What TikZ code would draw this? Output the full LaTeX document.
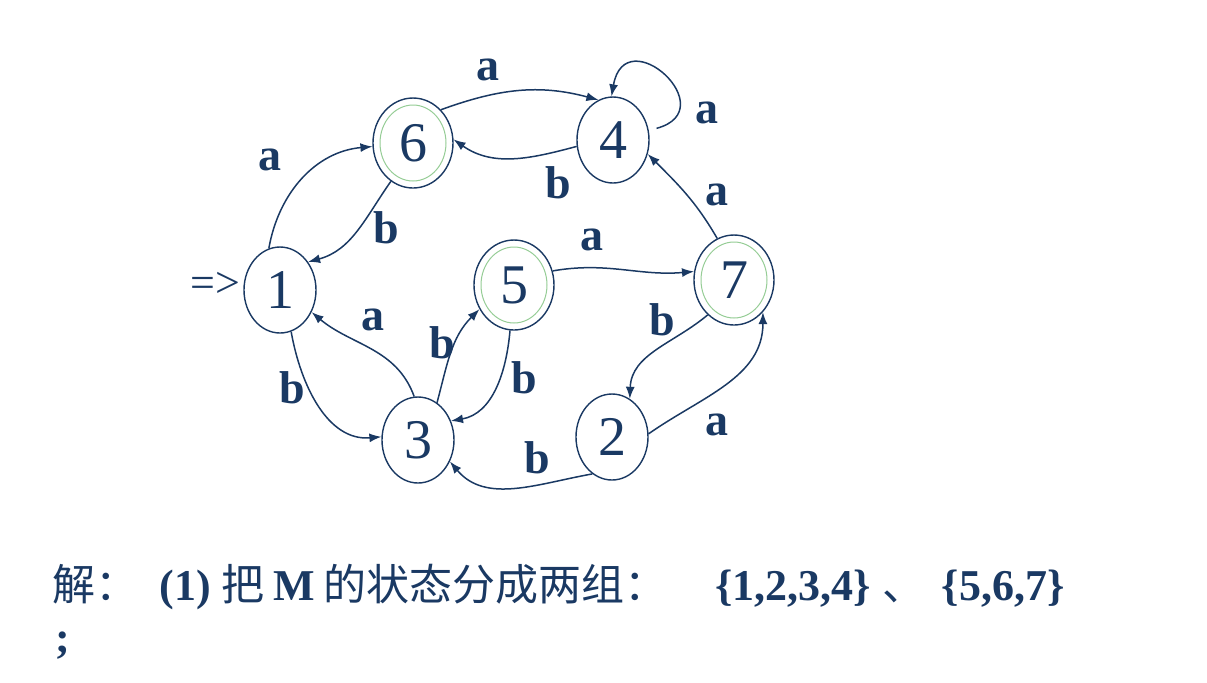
\documentclass[tikz,border=0pt]{standalone}
\usepackage{fontspec}
\setmainfont{Liberation Serif}
\newfontfamily\cjk{Noto Sans CJK SC}
\usetikzlibrary{shapes.geometric, arrows.meta}
\definecolor{navy}{RGB}{26,57,99}
\definecolor{ringgreen}{RGB}{150,205,150}
\tikzstyle{state} = [ellipse, draw=navy, line width=0.7pt, fill=white,
    minimum width=36pt, minimum height=43pt, inner sep=0pt, text=navy,
    font=\fontsize{28}{30}\selectfont]
\tikzstyle{accept} = [state, minimum width=40pt, minimum height=45pt,
    path picture={\draw[ringgreen, line width=0.5pt] (path picture bounding box.center)
    ellipse [x radius=16.5pt, y radius=19pt];}]
\tikzstyle{trans} = [draw=navy, line width=0.75pt, -{Latex[length=6pt, width=4.5pt]}]
\tikzstyle{lbl} = [text=navy, font=\fontsize{23}{25}\selectfont\bfseries]
\newcommand{\zh}[1]{{\cjk\mdseries\fontsize{21.5}{24}\selectfont #1}}

\begin{document}
\begin{tikzpicture}[x=0.5pt, y=-0.5pt]
    \useasboundingbox (0,0) rectangle (1207,682);
    % States
    \node[state] (n1) at (280,290) {1};
    \node[accept] (n6) at (413,143) {6};
    \node[state] (n4) at (613,140) {4};
    \node[accept] (n5) at (514,285) {5};
    \node[accept] (n7) at (734,280) {7};
    \node[state] (n3) at (418,440) {3};
    \node[state] (n2) at (612,437) {2};
    \node[text=navy, font=\fontsize{22}{24}\selectfont] (start) at (215,285) {=>};

    % Transitions
    \path[trans] (n1.105) to[out=80, in=185] (n6.185);
    \path[trans] (n6.240) to[out=235, in=15] (n1.45);
    \path[trans] (n6.50) to[out=20, in=165] (n4.110);
    \path[trans] (n4.190) to[out=195, in=-35] (n6.5);
    \path[trans, shorten <=4pt] (n4.15) to[out=15, in=80, looseness=4] (n4.92);
    \path[trans] (n7.112) to[out=120, in=-45] (n4.-22);
    \path[trans] (n5.20) to[out=10, in=185] (n7.168);
    \path[trans] (n7.233) to[out=220, in=88] (n2.65);
    \path[trans] (n2.5) to[out=35, in=-90] (n7.-48);
    \path[trans] (n2.242) to[out=190, in=-50] (n3.-34);
    \path[trans] (n3.95) to[out=110, in=-40] (n1.-35);
    \path[trans] (n1.-75) to[out=-80, in=185] (n3.175);
    \path[trans] (n3.63) to[out=75, in=225] (n5.215);
    \path[trans] (n5.265) to[out=265, in=10] (n3.30);

    % Labels
    \node[lbl] (l16) at (270,160) {a};
    \node[lbl] (l61) at (386,228) {b};
    \node[lbl] (l64) at (488,70) {a};
    \node[lbl] (l46) at (558,183) {b};
    \node[lbl] (l44) at (707,113) {a};
    \node[lbl] (l74) at (717,195) {a};
    \node[lbl] (l57) at (592,240) {a};
    \node[lbl] (l72) at (662,320) {b};
    \node[lbl] (l27) at (717,425) {a};
    \node[lbl] (l23) at (537,458) {b};
    \node[lbl] (l31) at (373,320) {a};
    \node[lbl] (l13) at (292,388) {b};
    \node[lbl] (l35) at (442,343) {b};
    \node[lbl] (l53) at (524,378) {b};

    % Answer text
    \node[anchor=base west, inner sep=0pt, text=navy, font=\fontsize{22}{24}\selectfont\bfseries]
        (answer) at (52,600) {\zh{解：}\hspace{10.5pt}(1)\hspace{5.5pt}\zh{把}\hspace{4.5pt}M\hspace{4pt}%
        \zh{的状态分成两组：}\hspace{24pt}\{1,2,3,4\}\hspace{6pt}\zh{、}\hspace{8pt}\{5,6,7\}};
    \node[anchor=base west, inner sep=0pt, text=navy, font=\fontsize{22}{24}\selectfont\bfseries]
        (semi) at (55,652) {;};
\end{tikzpicture}
\end{document}
